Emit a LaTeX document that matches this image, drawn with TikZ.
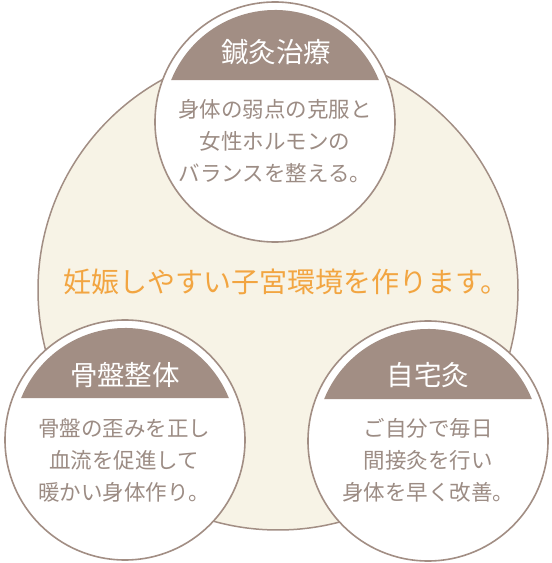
\documentclass[tikz,border=0pt]{standalone}
\usepackage{fontspec}
\newfontfamily\jp{Noto Sans CJK JP}
\usetikzlibrary{positioning}
\definecolor{mocha}{HTML}{A28E84}
\definecolor{cream}{HTML}{F7F3E6}
\definecolor{greytxt}{HTML}{9C8C84}
\definecolor{apricot}{HTML}{F2A541}

\begin{document}
\begin{tikzpicture}[x=1pt, y=1pt,
		bigring/.style={circle, draw=mocha, line width=1.5pt, fill=cream,
			minimum size=480pt, inner sep=0pt},
		ring/.style={circle, draw=mocha, line width=1.6pt, fill=white,
			minimum size=240pt, inner sep=0pt},
		titlecap/.style={fill=mocha},
		title/.style={font=\jp\fontsize{27.5}{27.5}\selectfont, text=white},
		body/.style={align=center, text=greytxt,
			font=\jp\fontsize{21.5}{32}\selectfont}
		]
		\useasboundingbox (0,0) rectangle (552,563);
		
		% Background circle
		\node[bigring] (base) at (278,273) {};
		
		% Three topic circles
		\node[ring] (acu)    at (275,441) {};
		\node[ring] (pelvis) at (125,123) {};
		\node[ring] (home)   at (428,122) {};
		
		% Title caps
		\fill[titlecap] (acu)    ++(22:112) arc[start angle=22, end angle=158, radius=112] -- cycle;
		\fill[titlecap] (pelvis) ++(22:112) arc[start angle=22, end angle=158, radius=112] -- cycle;
		\fill[titlecap] (home)   ++(22:112) arc[start angle=22, end angle=158, radius=112] -- cycle;
		
		% Titles
		\node[title] (acutitle)    at (276,511) {鍼灸治療};
		\node[title] (pelvistitle) at (125,188) {骨盤整体};
		\node[title] (hometitle)   at (428,188) {自宅灸};
		
		% Descriptions
		\node[body] (acutext)    at (275,422) {身体の弱点の克服と\\女性ホルモンの\\バランスを整える。};
		\node[body] (pelvistext) at (124,103) {骨盤の歪みを正し\\血流を促進して\\暖かい身体作り。};
		\node[body] (hometext)   at (428,103) {ご自分で毎日\\間接灸を行い\\身体を早く改善。};
		
		% Centre message
		\node[text=apricot, font=\jp\fontsize{28}{28}\selectfont] (message) at (286,281) {妊娠しやすい子宮環境を作ります。};
	\end{tikzpicture}
\end{document}
